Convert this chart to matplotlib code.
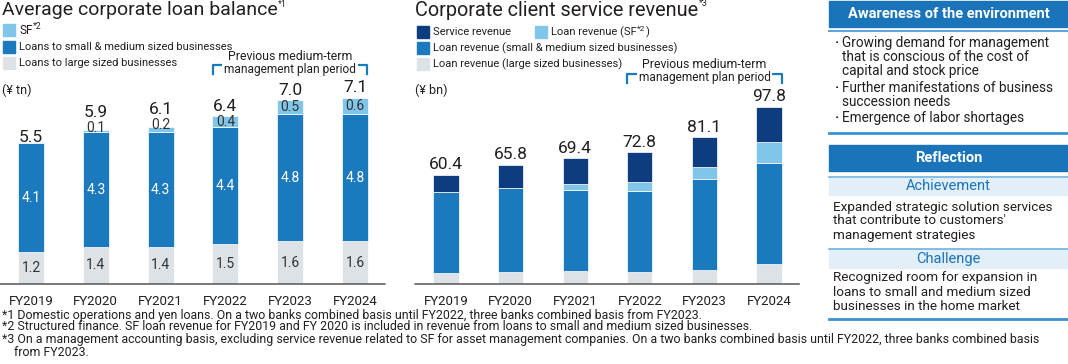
import numpy as np
import matplotlib
matplotlib.use("Agg")
import matplotlib.pyplot as plt
from matplotlib.patches import Rectangle
from matplotlib.lines import Line2D

plt.rcParams['font.family'] = ['Roboto', 'DejaVu Sans']

years = ['FY2019', 'FY2020', 'FY2021', 'FY2022', 'FY2023', 'FY2024']

# average corporate loan balance (¥ tn)
loan_large = [1.2, 1.4, 1.4, 1.5, 1.6, 1.6]
loan_sme = [4.1, 4.3, 4.3, 4.4, 4.8, 4.8]
loan_sf = [0.05, 0.1, 0.2, 0.4, 0.5, 0.6]
loan_sf_lbl = ['', '0.1', '0.2', '0.4', '0.5', '0.6']
loan_total = [5.5, 5.9, 6.1, 6.4, 7.0, 7.1]

# corporate client service revenue (¥ bn)
rev_large = [6.2, 6.8, 7.3, 6.8, 7.7, 11.0]
rev_sme = [44.4, 46.4, 44.6, 44.6, 50.1, 56.0]
rev_sf = [0.0, 0.0, 3.3, 5.1, 7.0, 11.5]
rev_service = [9.8, 12.6, 14.2, 16.3, 16.3, 19.3]
rev_total = [60.4, 65.8, 69.4, 72.8, 81.1, 97.8]

c_large = '#dde2e7'
c_sme = '#1b79be'
c_sf = '#80c5ea'
c_serv = '#0d3c7f'
c_head = '#1a74b9'
c_txt = '#231f20'

W, H = 1068, 364
fig = plt.figure(figsize=(W / 100, H / 100), dpi=100)
rend = fig.canvas.get_renderer()


def px_axes(x0, y0, x1, y1):
    return fig.add_axes([x0 / W, 1 - y1 / H, (x1 - x0) / W, (y1 - y0) / H])


def style(ax):
    for s in ['top', 'left', 'right']:
        ax.spines[s].set_visible(False)
    ax.spines['bottom'].set_color('#555555')
    ax.spines['bottom'].set_linewidth(1.1)
    ax.set_yticks([])
    ax.tick_params(axis='x', length=0, pad=8, labelsize=9.5, colors=c_txt)
    ax.patch.set_alpha(0)


x = np.arange(len(years))

# ---- left chart
ax1 = px_axes(0, 0, 385, 284)
ax1.set_xlim(-0.478, 5.463)
ax1.set_ylim(0, 284 / 26.6)
style(ax1)
ax1.set_xticks(x, years)
bw = 0.40
b1 = np.array(loan_large)
b2 = b1 + np.array(loan_sme)
ax1.bar(x, loan_large, bw, color=c_large, edgecolor='white', linewidth=0.5)
ax1.bar(x, loan_sme, bw, bottom=b1, color=c_sme, edgecolor='white', linewidth=0.5)
ax1.bar(x, loan_sf, bw, bottom=b2, color=c_sf, edgecolor='white', linewidth=0.5)
for i in x:
    ax1.text(i, loan_large[i] / 2, f'{loan_large[i]:.1f}', ha='center', va='center',
             fontsize=10, color='#333333')
    ax1.text(i, b1[i] + loan_sme[i] / 2, f'{loan_sme[i]:.1f}', ha='center', va='center',
             fontsize=10, color='white')
    top = b2[i] + loan_sf[i]
    seg_px = loan_sf[i] * 26.6
    if loan_sf_lbl[i] == '':
        off = 0
    elif seg_px >= 9:
        ax1.text(i, b2[i] + loan_sf[i] / 2, loan_sf_lbl[i], ha='center', va='center',
                 fontsize=10, color='#333333')
        off = 4
    else:
        ax1.annotate(loan_sf_lbl[i], (i, top), xytext=(0, -1.5), textcoords='offset points',
                     ha='center', va='baseline', fontsize=10, color='#333333')
        off = 9.5
    ax1.annotate(f'{loan_total[i]:.1f}', (i, top), xytext=(0, off), textcoords='offset points',
                 ha='center', va='baseline', fontsize=12.5, color=c_txt)

# ---- middle chart
ax2 = px_axes(415, 0, 799, 284)
ax2.set_xlim(-0.48, 5.464)
ax2.set_ylim(0, 284 / 1.81)
style(ax2)
ax2.set_xticks(x, years)
bw = 0.39
r1 = np.array(rev_large)
r2 = r1 + np.array(rev_sme)
r3 = r2 + np.array(rev_sf)
ax2.bar(x, rev_large, bw, color=c_large, edgecolor='white', linewidth=0.5)
ax2.bar(x, rev_sme, bw, bottom=r1, color=c_sme, edgecolor='white', linewidth=0.5)
ax2.bar(x, rev_sf, bw, bottom=r2, color=c_sf, edgecolor='white', linewidth=0.5)
ax2.bar(x, rev_service, bw, bottom=r3, color=c_serv, edgecolor='white', linewidth=0.5)
for i in x:
    ax2.annotate(f'{rev_total[i]:.1f}', (i, r3[i] + rev_service[i]), xytext=(0, 4),
                 textcoords='offset points', ha='center', va='baseline', fontsize=12.5, color=c_txt)

# ---- overlay in pixel coords
ov = fig.add_axes([0, 0, 1, 1])
ov.set_xlim(0, W)
ov.set_ylim(H, 0)
ov.axis('off')
ov.patch.set_alpha(0)


def t(xp, yp, s, **kw):
    kw.setdefault('fontsize', 9)
    kw.setdefault('color', c_txt)
    kw.setdefault('va', 'center')
    return ov.text(xp, yp, s, **kw)


def right_px(txt):
    # right edge of a left-aligned text, in overlay pixels
    return txt.get_window_extent(renderer=rend).x1 * W / fig.bbox.width


def sup(xp, yp, base, mark, size, msize, tail=''):
    tx = t(xp, yp, base, fontsize=size)
    xe = right_px(tx)
    ms = t(xe + 0.5, yp - size * 0.42, mark, fontsize=msize)
    if tail:
        t(right_px(ms) + 0.5, yp, tail, fontsize=size)


def swatch(xp, yp, c):
    ov.add_patch(Rectangle((xp, yp - 6), 12, 12, color=c))


# titles
sup(2, 10, 'Average corporate loan balance', '*1', 14, 6.5)
sup(415, 10, 'Corporate client service revenue', '*3', 14.3, 6.5)

# legends
swatch(3, 30, c_sf)
sup(19, 30, 'SF', '*2', 8.6, 6.2)
swatch(3, 47, c_sme)
t(19, 47, 'Loans to small & medium sized businesses', fontsize=8.0)
swatch(3, 63, c_large)
t(19, 63, 'Loans to large sized businesses', fontsize=8.0)
t(2, 90, '(¥ tn)', fontsize=9)

swatch(417, 32, c_serv)
t(433, 32, 'Service revenue', fontsize=8.0)
swatch(535, 32, c_sf)
sup(551, 32, 'Loan revenue (SF', '*2', 8.0, 6, tail=')')
swatch(417, 48, c_sme)
t(433, 48, 'Loan revenue (small & medium sized businesses)', fontsize=8.0)
swatch(417, 64, c_large)
t(433, 64, 'Loan revenue (large sized businesses)', fontsize=8.0)
t(415, 90, '(¥ bn)', fontsize=9)


def bracket(x0, x1, yt, xc):
    t(xc, yt - 9, 'Previous medium-term', fontsize=8.8, ha='center')
    t(xc, yt + 4, 'management plan period', fontsize=8.6, ha='center', zorder=3,
      bbox=dict(facecolor='white', edgecolor='none', pad=1.5))
    ov.add_line(Line2D([x0, x0, x1, x1], [yt + 9, yt, yt, yt + 9], color='#1a7abf', lw=1.6,
                       zorder=2))


bracket(213, 367, 65, 290)
bracket(627, 782, 74, 704.5)

# right panel
RX0, RX1 = 829, 1068
RC = (RX0 + RX1) / 2
ov.add_patch(Rectangle((RX0, 1), RX1 - RX0, 26, color=c_head))
t(RC, 14, 'Awareness of the environment', ha='center', color='white', fontsize=10.5,
  fontweight='bold')
ov.add_line(Line2D([RX0, RX1], [31, 31], color='#5aa6dc', lw=1.5))
aw = [(43, '·', 'Growing demand for management'),
      (57, '', 'that is conscious of the cost of'),
      (71, '', 'capital and stock price'),
      (88, '·', 'Further manifestations of business'),
      (102, '', 'succession needs'),
      (118, '·', 'Emergence of labor shortages')]
for yp, b, s in aw:
    if b:
        t(835, yp, b, fontsize=10, fontweight='bold')
    t(842, yp, s, fontsize=9.8)
ov.add_line(Line2D([RX0, RX1], [132.5, 132.5], color='#3d8fcf', lw=2))

ov.add_patch(Rectangle((RX0, 145), RX1 - RX0, 26, color=c_head))
t(RC, 158, 'Reflection', ha='center', color='white', fontsize=10.5, fontweight='bold')
ov.add_line(Line2D([RX0, RX1], [177, 177], color='#6fb2e2', lw=1.2))
ov.add_patch(Rectangle((RX0, 178), RX1 - RX0, 17, color='#e2eff9'))
t(RC, 186.5, 'Achievement', ha='center', color='#1a74b9', fontsize=10.5)
for yp, s in [(207, 'Expanded strategic solution services'),
              (221, "that contribute to customers'"),
              (235, 'management strategies')]:
    t(833, yp, s, fontsize=9.7)
ov.add_line(Line2D([RX0, RX1], [248.5, 248.5], color='#6fb2e2', lw=1.2))
ov.add_patch(Rectangle((RX0, 249), RX1 - RX0, 19, color='#e2eff9'))
t(RC, 258.5, 'Challenge', ha='center', color='#1a74b9', fontsize=10.5)
for yp, s in [(278, 'Recognized room for expansion in'),
              (292, 'loans to small and medium sized'),
              (306, 'businesses in the home market')]:
    t(833, yp, s, fontsize=9.7)
ov.add_line(Line2D([RX0, RX1], [318.5, 318.5], color='#3d8fcf', lw=2))

# footnotes
notes = [(2, 315, '*1 Domestic operations and yen loans. On a two banks combined basis until FY2022, three banks combined basis from FY2023.'),
         (2, 327, '*2 Structured finance. SF loan revenue for FY2019 and FY 2020 is included in revenue from loans to small and medium sized businesses.'),
         (2, 339, '*3 On a management accounting basis, excluding service revenue related to SF for asset management companies. On a two banks combined basis until FY2022, three banks combined basis'),
         (14, 352, 'from FY2023.')]
for xp, yp, s in notes:
    t(xp, yp, s, fontsize=8.9)

fig.savefig('out.png', dpi=100)
